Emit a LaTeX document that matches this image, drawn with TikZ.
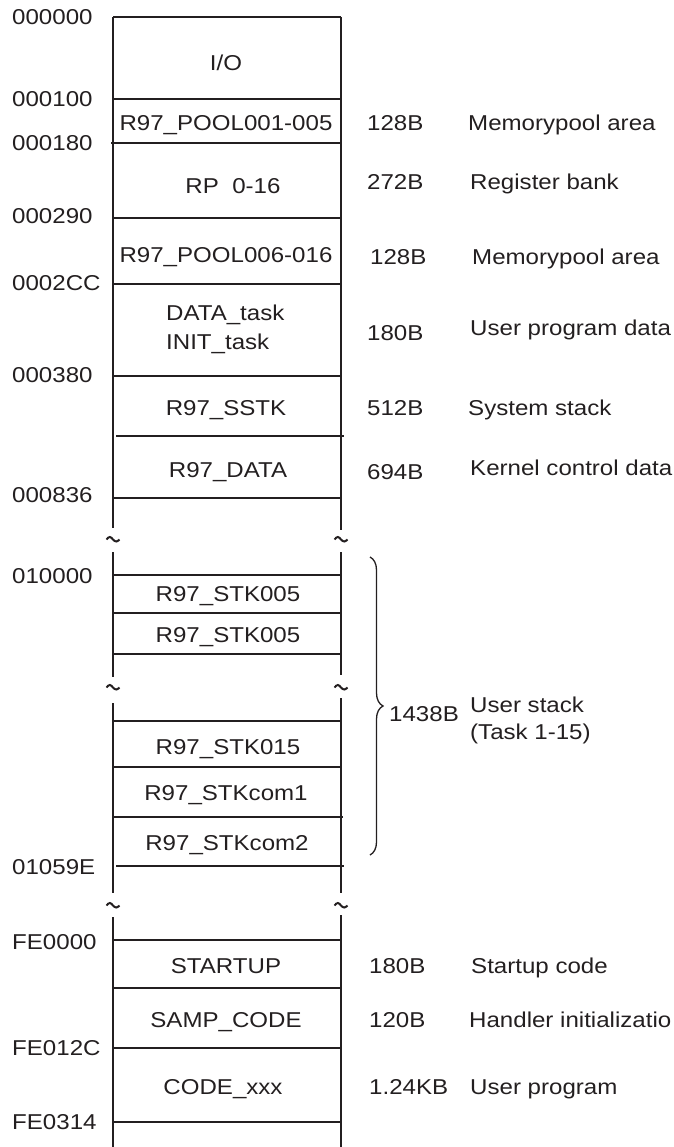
\documentclass[tikz,border=0pt]{standalone}
\usepackage{fontspec}
\setmainfont[FakeStretch=1.12]{Liberation Sans}
\usetikzlibrary{decorations.pathreplacing}
\definecolor{inkc}{RGB}{35,31,32}
\begin{document}
\begin{tikzpicture}[x=1pt,y=-1pt,
  wall/.style={line width=2.5pt, draw=inkc},
  rule/.style={line width=1.5pt, draw=inkc},
  lbl/.style={inner sep=0pt, text height=15pt, text depth=0pt,
              font=\fontsize{21.5}{25}\selectfont, text=inkc},
  addr/.style={lbl, anchor=west},
  cell/.style={lbl, anchor=center},
  size/.style={lbl, anchor=west},
  desc/.style={lbl, anchor=west},
  brk/.pic={\draw[line width=2pt, draw=inkc]
             (-6.5,0.5) sin (-3.2,-2) cos (0,0.5) sin (3.2,2.5) cos (6.5,0.5);}
]
\useasboundingbox (0,0) rectangle (673,1147);

% memory column walls, interrupted at the address gaps
\draw[wall] (113,17) -- (113,528);  \draw[wall] (341,17) -- (341,530);
\draw[wall] (113,552) -- (113,677); \draw[wall] (341,552) -- (341,675);
\draw[wall] (113,703) -- (113,893); \draw[wall] (341,698) -- (341,893);
\draw[wall] (113,917) -- (113,1147); \draw[wall] (341,915) -- (341,1147);

% gap marks
\pic at (113,539) {brk}; \pic at (341,539) {brk};
\pic at (113,687) {brk}; \pic at (341,687) {brk};
\pic at (113,905) {brk}; \pic at (341,905) {brk};

% section boundaries
\draw[wall] (113,17) -- (341,17);
\foreach \yy in {99,218,284,376,498,613,654,721,767,940,988,1048,1122}
  \draw[rule] (113,\yy) -- (341,\yy);
\draw[rule] (111,143) -- (341,143);
\draw[rule] (116,436) -- (344,436);
\draw[rule] (114,575) -- (342,575);
\draw[rule] (114,817) -- (343,817);
\draw[rule] (116,866) -- (344,866);

% addresses
\node[addr] (a0)  at (12,17)   {000000};
\node[addr] (a1)  at (12,99)   {000100};
\node[addr] (a2)  at (12,143)  {000180};
\node[addr] (a3)  at (12,216)  {000290};
\node[addr] (a4)  at (12,283)  {0002CC};
\node[addr] (a5)  at (12,375)  {000380};
\node[addr] (a6)  at (12,495)  {000836};
\node[addr] (a7)  at (12,576)  {010000};
\node[addr] (a8)  at (12,867)  {01059E};
\node[addr] (a9)  at (12,942)  {FE0000};
\node[addr] (a10) at (12,1048) {FE012C};
\node[addr] (a11) at (12,1122) {FE0314};

% section contents
\node[cell] (c0)  at (226,63)   {I/O};
\node[cell] (c1)  at (226,123)  {R97\_POOL001-005};
\node[cell] (c2)  at (233,186)  {RP\ \ 0-16};
\node[cell] (c3)  at (226,255)  {R97\_POOL006-016};
\node[addr] (c4)  at (166,313)  {DATA\_task};
\node[addr] (c5)  at (166,342)  {INIT\_task};
\node[cell] (c6)  at (226,408)  {R97\_SSTK};
\node[cell] (c7)  at (228,470)  {R97\_DATA};
\node[cell] (c8)  at (228,594)  {R97\_STK005};
\node[cell] (c9)  at (228,635)  {R97\_STK005};
\node[cell] (c10) at (228,747)  {R97\_STK015};
\node[cell] (c11) at (226,793)  {R97\_STKcom1};
\node[cell] (c12) at (227,843)  {R97\_STKcom2};
\node[cell] (c13) at (226,966)  {STARTUP};
\node[cell] (c14) at (226,1020) {SAMP\_CODE};
\node[cell] (c15) at (223,1087) {CODE\_xxx};

% sizes
\node[size] (s1)  at (367,123)  {128B};
\node[size] (s2)  at (367,182)  {272B};
\node[size] (s3)  at (370,257)  {128B};
\node[size] (s4)  at (367,333)  {180B};
\node[size] (s5)  at (367,408)  {512B};
\node[size] (s6)  at (367,472)  {694B};
\node[size] (s7)  at (389,714)  {1438B};
\node[size] (s8)  at (369,966)  {180B};
\node[size] (s9)  at (369,1020) {120B};
\node[size] (s10) at (369,1087) {1.24KB};

% descriptions
\node[desc] (d1)  at (468,123)  {Memorypool area};
\node[desc] (d2)  at (470,182)  {Register bank};
\node[desc] (d3)  at (472,257)  {Memorypool area};
\node[desc] (d4)  at (470,328)  {User program data};
\node[desc] (d5)  at (468,408)  {System stack};
\node[desc] (d6)  at (470,468)  {Kernel control data};
\node[desc] (d7)  at (470,705)  {User stack};
\node[desc] (d8)  at (470,732)  {(Task 1-15)};
\node[desc] (d9)  at (471,966)  {Startup code};
\node[desc] (d10) at (469,1020) {Handler initializatio};
\node[desc] (d11) at (470,1087) {User program};

% user stack brace
\coordinate (bt) at (370,557);
\coordinate (bb) at (370,855);
\draw[line width=1.3pt, draw=inkc, decorate, decoration={brace, amplitude=13pt}] (bt) -- (bb);
\end{tikzpicture}
\end{document}
